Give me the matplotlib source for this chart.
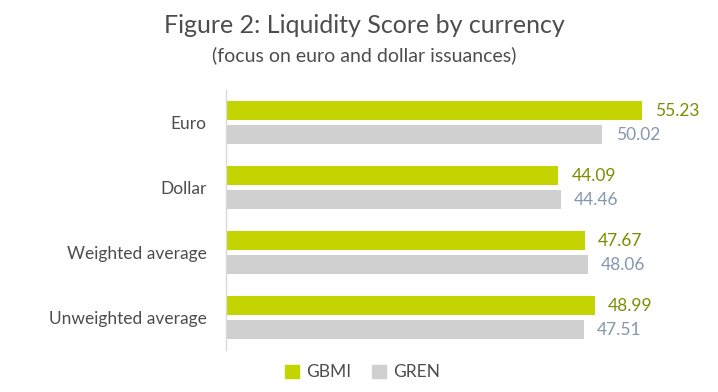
import numpy as np
import matplotlib
matplotlib.use('Agg')
import matplotlib.pyplot as plt
from matplotlib.patches import Patch

plt.rcParams['font.family'] = ['Lato', 'DejaVu Sans']

categories = ['Euro', 'Dollar', 'Weighted average', 'Unweighted average']
gbmi = [55.23, 44.09, 47.67, 48.99]
gren = [50.02, 44.46, 48.06, 47.51]

gbmi_color = '#C3D400'
gren_color = '#D0D0D0'
gbmi_text = '#7F8C00'
gren_text = '#8497B0'
text_color = '#4D4D4D'

fig = plt.figure(figsize=(7.18, 3.92), dpi=100)
ax = fig.add_axes([0.315, 0.107, 0.66, 0.663])

y = np.arange(len(categories))
off = 0.185
h = 0.29
ax.barh(y - off, gbmi, height=h, color=gbmi_color, label='GBMI')
ax.barh(y + off, gren, height=h, color=gren_color, label='GREN')

for yi, v in zip(y, gbmi):
    ax.text(v + 1.8, yi - off, f'{v:.2f}', va='center', ha='left', fontsize=12.5, color=gbmi_text)
for yi, v in zip(y, gren):
    ax.text(v + 1.8, yi + off, f'{v:.2f}', va='center', ha='left', fontsize=12.5, color=gren_text)

ax.set_xlim(0, 63)
ax.set_ylim(3.5, -0.5)
ax.set_yticks(y)
ax.set_yticklabels(categories, fontsize=12.5, color=text_color)
ax.tick_params(axis='y', length=0, pad=14)
ax.set_xticks([])
for s in ['top', 'right', 'bottom']:
    ax.spines[s].set_visible(False)
ax.spines['left'].set_color('#D9D9D9')
ax.spines['left'].set_linewidth(1)

fig.text(0.507, 0.935, 'Figure 2: Liquidity Score by currency', ha='center', va='center',
         fontsize=18, color=text_color)
fig.text(0.507, 0.858, '(focus on euro and dollar issuances)', ha='center', va='center',
         fontsize=14, color=text_color)

handles = [Patch(color=gbmi_color, label='GBMI'), Patch(color=gren_color, label='GREN')]
leg = fig.legend(handles=handles, loc='center', bbox_to_anchor=(0.505, 0.05), ncol=2,
                 frameon=False, fontsize=12.5, handlelength=0.8, handleheight=0.8,
                 handletextpad=0.4, columnspacing=1.2)
for t in leg.get_texts():
    t.set_color(text_color)

fig.savefig('out.png', dpi=100)
